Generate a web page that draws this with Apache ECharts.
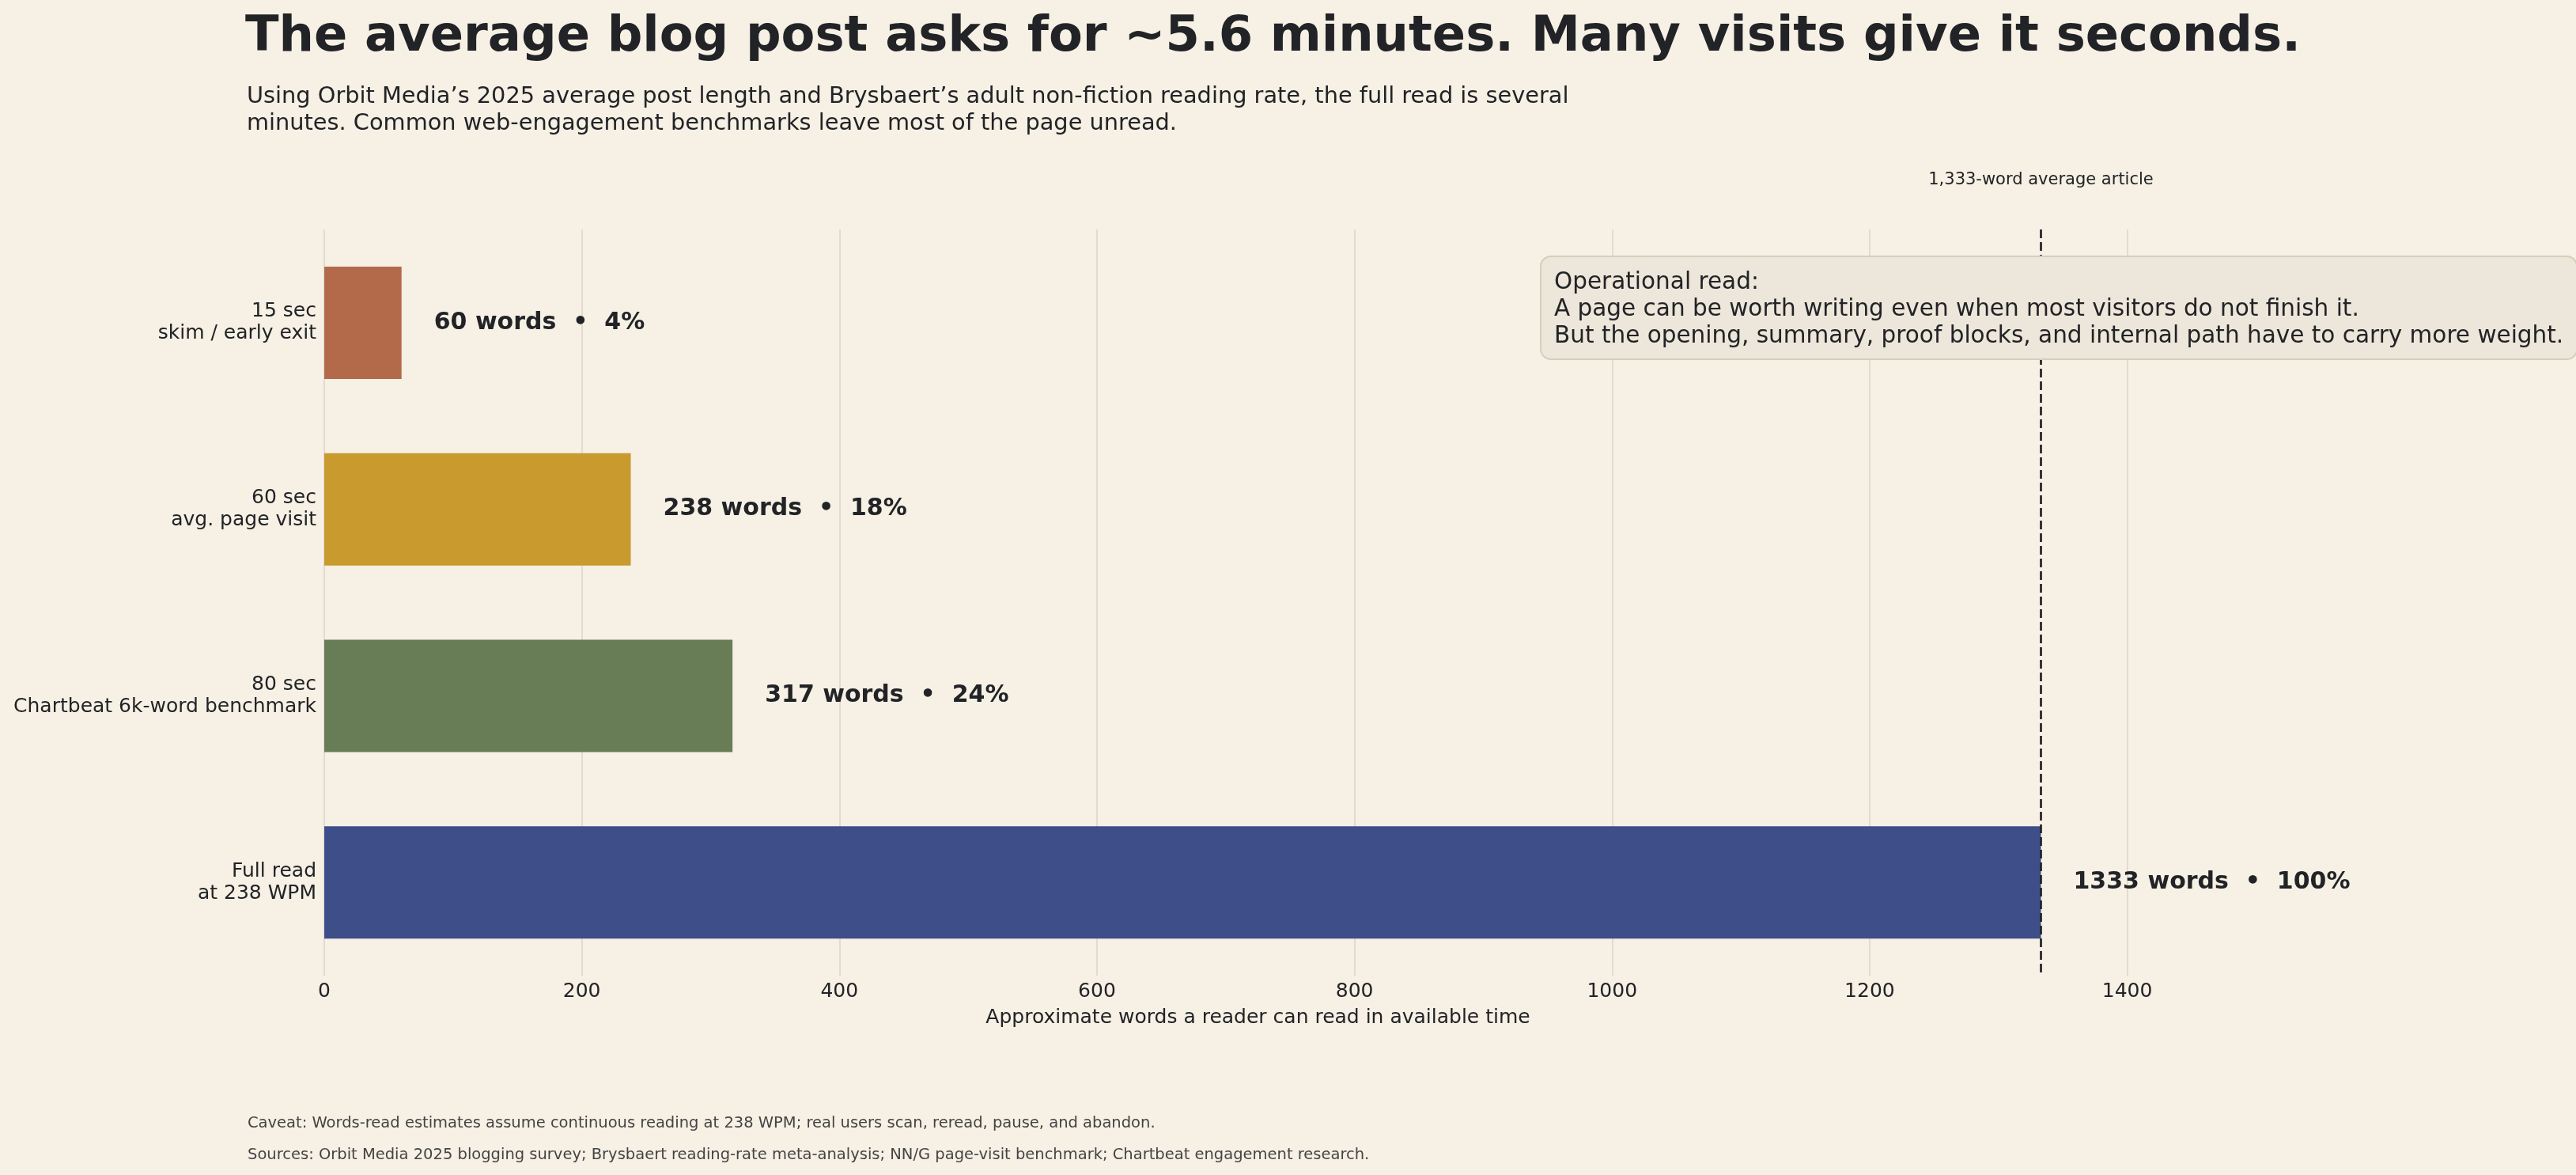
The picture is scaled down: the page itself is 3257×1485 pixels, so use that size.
<!DOCTYPE html>
<html>
<head>
<meta charset="utf-8">
<script src="https://cdn.jsdelivr.net/npm/echarts@6/dist/echarts.min.js"></script>
<style>
  html, body { margin: 0; padding: 0; background: #f6f0e5; }
  #chart { width: 3257px; height: 1485px; }
</style>
</head>
<body>
<div id="chart"></div>
<script>
// 每个阅读时长能读多少字
var categories = [
  '15 sec\nskim / early exit',
  '60 sec\navg. page visit',
  '80 sec\nChartbeat 6k-word benchmark',
  'Full read\nat 238 WPM'
];
var words = [60, 238, 317, 1333];
var shares = [4, 18, 24, 100];
var barColors = ['#b36a4a', '#c99a2e', '#687c56', '#3e4e88'];
var articleWords = 1333;
var xTickStep = 200;

var FONT = '"DejaVu Sans", sans-serif';
var INK = '#222326';

var chart = echarts.init(document.getElementById('chart'), null, { renderer: 'canvas' });

var option = {
  backgroundColor: '#f6f0e5',
  animation: false,
  title: [
    {
      text: 'The average blog post asks for ~5.6 minutes. Many visits give it seconds.',
      left: 305, top: 12,
      textStyle: { fontFamily: FONT, fontSize: 62.4, fontWeight: 'bold', color: INK }
    },
    {
      text: 'Using Orbit Media\u2019s 2025 average post length and Brysbaert\u2019s adult non-fiction reading rate, the full read is several\nminutes. Common web-engagement benchmarks leave most of the page unread.',
      left: 307, top: 101,
      textStyle: { fontFamily: FONT, fontSize: 28.8, fontWeight: 'normal', color: INK, lineHeight: 34 }
    },
    {
      text: 'Caveat: Words-read estimates assume continuous reading at 238 WPM; real users scan, reread, pause, and abandon.',
      left: 308, top: 1405,
      textStyle: { fontFamily: FONT, fontSize: 19.5, fontWeight: 'normal', color: '#444444' }
    },
    {
      text: 'Sources: Orbit Media 2025 blogging survey; Brysbaert reading-rate meta-analysis; NN/G page-visit benchmark; Chartbeat engagement research.',
      left: 308, top: 1445,
      textStyle: { fontFamily: FONT, fontSize: 19.5, fontWeight: 'normal', color: '#444444' }
    }
  ],
  grid: { left: 410, right: 486, top: 290, bottom: 252, containLabel: false },
  xAxis: {
    type: 'value',
    min: 0,
    max: 1450,
    interval: xTickStep,
    name: 'Approximate words a reader can read in available time',
    nameLocation: 'middle',
    nameGap: 41,
    nameTextStyle: { fontFamily: FONT, fontSize: 25, color: INK },
    axisLine: { show: false },
    axisTick: { show: false },
    axisLabel: {
      fontFamily: FONT, fontSize: 25, color: INK, margin: 8,
      showMaxLabel: false,
      formatter: function (v) { return v % xTickStep === 0 ? String(v) : ''; }
    },
    splitLine: { show: true, showMaxLine: false, lineStyle: { color: '#ddd5c8', width: 1.5 } }
  },
  yAxis: {
    type: 'category',
    inverse: true,
    data: categories,
    axisLine: { show: false },
    axisTick: { show: false },
    axisLabel: { fontFamily: FONT, fontSize: 25, lineHeight: 28, color: INK, margin: 10, align: 'right' }
  },
  series: [
    {
      type: 'bar',
      barWidth: 142,
      data: words.map(function (w, i) {
        return { value: w, itemStyle: { color: barColors[i] } };
      }),
      label: {
        show: true,
        position: 'right',
        distance: 41,
        fontFamily: FONT,
        fontSize: 30,
        fontWeight: 'bold',
        color: INK,
        formatter: function (p) {
          return words[p.dataIndex] + ' words  \u2022  ' + shares[p.dataIndex] + '%';
        }
      },
      markLine: {
        silent: true,
        symbol: ['none', 'none'],
        lineStyle: { color: INK, width: 2.7, type: [11, 5] },
        label: {
          show: true,
          position: 'start',
          distance: 52,
          fontFamily: FONT,
          fontSize: 21,
          color: INK,
          formatter: '1,333-word average article'
        },
        data: [{ xAxis: articleWords }]
      }
    }
  ],
  graphic: [
    {
      type: 'text',
      x: 1949,
      y: 325,
      z: 100,
      style: {
        text: 'Operational read:\nA page can be worth writing even when most visitors do not finish it.\nBut the opening, summary, proof blocks, and internal path have to carry more weight.',
        font: '29.5px "DejaVu Sans", sans-serif',
        lineHeight: 34,
        fill: INK,
        backgroundColor: '#ede6da',
        borderColor: '#d8cdb9',
        borderWidth: 2,
        borderRadius: 12,
        padding: [15, 16, 11, 16]
      }
    }
  ]
};

chart.setOption(option);
</script>
</body>
</html>
